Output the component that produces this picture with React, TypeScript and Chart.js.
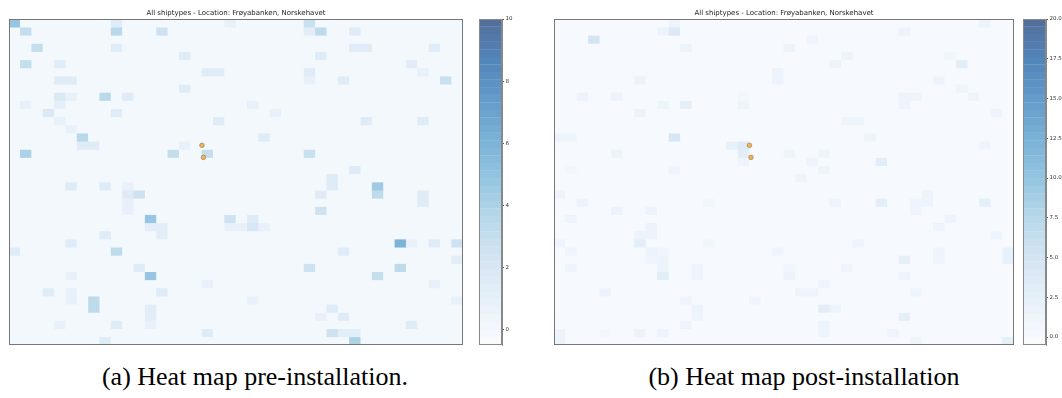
import React, { useEffect, useRef } from 'react';
import { Chart, registerables } from 'chart.js';

Chart.register(...registerables);

const GRID_SIZE = 40;
const TITLE = 'All shiptypes - Location: Frøyabanken, Norskehavet';
const CAPTION_PRE = '(a) Heat map pre-installation.';
const CAPTION_POST = '(b) Heat map post-installation';

// [column, row, value]  (row 0 = top)
const preCells: [number, number, number][] = [
  [0, 0, 4.8], [9, 0, 1.5], [19, 0, 0.8], [26, 0, 2.8],
  [1, 1, 3], [9, 1, 3.5], [13, 1, 2.5], [26, 1, 1.3], [27, 1, 3.3], [30, 1, 1.5],
  [2, 3, 3], [9, 3, 1.5], [30, 3, 1.5], [31, 3, 1.5], [37, 3, 1.5],
  [15, 4, 1.5], [27, 4, 1.5],
  [1, 5, 3], [4, 5, 1.5], [35, 5, 1.3],
  [17, 6, 1.5], [18, 6, 1.5], [26, 6, 1.5], [36, 6, 0.8],
  [4, 7, 1.5], [5, 7, 1.5], [26, 7, 0.8], [29, 7, 1.5], [38, 7, 2.8],
  [15, 8, 1.5],
  [4, 9, 1.8], [5, 9, 0.8], [8, 9, 3.5], [10, 9, 1.5],
  [1, 10, 0.8], [4, 10, 1], [21, 10, 0.8],
  [3, 11, 1.8], [9, 11, 1.5], [23, 11, 0.8],
  [4, 12, 0.8], [18, 12, 1.5], [31, 12, 1.5], [36, 12, 1.5],
  [5, 13, 0.8],
  [6, 14, 3.5], [22, 14, 1.5],
  [6, 15, 1.5], [7, 15, 1.5], [15, 15, 0.8],
  [1, 16, 4], [14, 16, 3], [17, 16, 3], [26, 16, 2.8],
  [30, 18, 1.5],
  [28, 19, 1.5],
  [5, 20, 1.5], [8, 20, 1.5], [10, 20, 0.8], [28, 20, 1.5], [32, 20, 4.5],
  [10, 21, 1.5], [11, 21, 2.5], [27, 21, 1.5], [32, 21, 3.3], [36, 21, 1.5],
  [10, 22, 0.8], [36, 22, 1.5],
  [10, 23, 0.8], [27, 23, 2.5],
  [12, 24, 4.8], [19, 24, 2.5], [21, 24, 1.5],
  [12, 25, 1.3], [13, 25, 1.3], [19, 25, 0.8], [20, 25, 0.8], [21, 25, 2], [22, 25, 0.8],
  [8, 26, 1.5], [13, 26, 1.3],
  [5, 27, 1.5], [34, 27, 6], [35, 27, 0.8], [37, 27, 1.5], [39, 27, 2.5],
  [0, 28, 1.5], [9, 28, 3.3], [29, 28, 1.5],
  [39, 29, 1.3],
  [11, 30, 1.5], [26, 30, 2.5], [34, 30, 3.3],
  [5, 31, 0.8], [12, 31, 4.8], [32, 31, 3],
  [17, 32, 0.8], [37, 32, 0.8],
  [3, 33, 1.5], [5, 33, 0.8], [13, 33, 1.5],
  [5, 34, 0.8], [7, 34, 3.3], [21, 34, 0.8], [39, 34, 0.8],
  [7, 35, 3.3], [12, 35, 1.3], [28, 35, 1.5],
  [12, 36, 1.3], [27, 36, 0.8], [29, 36, 1.5],
  [4, 37, 0.8], [9, 37, 1.5], [12, 37, 0.8], [35, 37, 1.5],
  [17, 38, 1.5], [28, 38, 2.5], [29, 38, 1.3], [30, 38, 1.3],
  [8, 39, 1.5], [30, 39, 4],
];

const postCells: [number, number, number][] = [
  [10, 0, 1.3], [37, 0, 1.3],
  [9, 1, 1.5], [10, 1, 3.8], [30, 1, 1.5],
  [3, 2, 5], [22, 2, 1.3],
  [11, 3, 1.5], [20, 3, 1.5],
  [25, 4, 1.3], [34, 4, 1],
  [24, 5, 1.5], [35, 5, 3],
  [19, 6, 1.5],
  [7, 7, 1.5], [19, 7, 1.5], [33, 7, 1.5],
  [35, 8, 1.3],
  [2, 9, 1.5], [5, 9, 1.5], [16, 9, 0.8], [30, 9, 1.3], [31, 9, 1.3], [36, 9, 1.3],
  [9, 10, 1.3], [11, 10, 2.5], [16, 10, 1.3], [30, 10, 1.3],
  [7, 11, 1.5], [38, 11, 1.3],
  [25, 12, 1.3], [26, 12, 1.3],
  [0, 14, 1.3], [1, 14, 1.3], [10, 14, 4.5], [27, 14, 1.3],
  [15, 15, 2], [16, 15, 3.5], [37, 15, 1.3],
  [5, 16, 1.5], [16, 16, 3], [20, 16, 1.3], [23, 16, 1.3],
  [16, 17, 1.3], [22, 17, 1.3], [28, 17, 3],
  [1, 18, 0.7], [10, 18, 1.3], [23, 18, 1.3],
  [21, 19, 1.3],
  [0, 21, 1.3], [32, 21, 1.3],
  [2, 22, 1.5], [13, 22, 1], [24, 22, 1.3], [28, 22, 2.8], [31, 22, 1.3], [32, 22, 1.3], [37, 22, 2.5],
  [5, 23, 1.5], [8, 23, 1.5], [31, 23, 1.3],
  [1, 24, 1.3], [34, 24, 1.3],
  [8, 25, 1.5], [33, 25, 1.3],
  [7, 26, 1.5], [8, 26, 1.5], [38, 26, 1.3],
  [0, 27, 1.3], [7, 27, 2.8], [13, 27, 1], [26, 27, 1.3],
  [1, 28, 1.3], [8, 28, 1.5], [9, 28, 1], [19, 28, 1.3], [33, 28, 1.3], [39, 28, 2],
  [8, 29, 1.3], [9, 29, 1.5], [30, 29, 2.5], [33, 29, 1.3], [39, 29, 2],
  [1, 30, 1.3], [9, 30, 1.5], [12, 30, 1.3], [20, 30, 1], [25, 30, 1.3],
  [9, 31, 3], [12, 31, 1.3], [20, 31, 1.5], [30, 31, 1.3],
  [23, 32, 1.3],
  [4, 33, 1.5], [21, 33, 1.3], [22, 33, 1.3], [31, 33, 1.3],
  [11, 34, 1.3], [17, 34, 1.3],
  [12, 35, 1.5], [23, 35, 3], [24, 35, 1.3],
  [12, 36, 1.3], [30, 36, 2.5],
  [11, 37, 1.3], [23, 37, 1.3],
  [0, 38, 1.5], [4, 38, 0.6], [7, 38, 1.5], [9, 38, 1.3], [23, 38, 1.3], [29, 38, 1.3],
  [0, 39, 1.5], [31, 39, 1.3], [39, 39, 2.5],
];

// installation markers, in grid units
const markerX = [17.0, 17.13];
const markerY = [15.5, 16.98];

const preRange = [-0.5, 10];
const postRange = [-0.5, 20];
const preTicks = [0, 2, 4, 6, 8, 10];
const preTickLabels = ['0', '2', '4', '6', '8', '10'];
const postTicks = [0, 2.5, 5, 7.5, 10, 12.5, 15, 17.5, 20];
const postTickLabels = ['0.0', '2.5', '5.0', '7.5', '10.0', '12.5', '15.0', '17.5', '20.0'];

const BLUES = [
  [247, 251, 255], [222, 235, 247], [198, 219, 239], [158, 202, 225], [107, 174, 214],
  [66, 146, 198], [33, 113, 181], [8, 81, 156], [8, 48, 107],
];

function cmap(v: number, range: number[]) {
  let t = (v - range[0]) / (range[1] - range[0]);
  t = Math.max(0, Math.min(1, t));
  const p = t * 8;
  const i = Math.min(7, Math.floor(p));
  const f = p - i;
  const a = BLUES[i], b = BLUES[i + 1];
  const rgb = [0, 1, 2].map((k) => a[k] + (b[k] - a[k]) * f);
  const out = rgb.map((c) => Math.round(0.7 * c + 0.3 * 255));
  return `rgb(${out[0]},${out[1]},${out[2]})`;
}

const framePlugin = (color: string) => ({
  id: 'frame',
  afterDraw(chart: any) {
    const { ctx, chartArea } = chart;
    ctx.save();
    ctx.strokeStyle = color;
    ctx.lineWidth = 1;
    ctx.strokeRect(chartArea.left + 0.5, chartArea.top + 0.5, chartArea.width - 1, chartArea.height - 1);
    ctx.restore();
  },
});

const bgPlugin = (color: string) => ({
  id: 'bgfill',
  beforeDatasetsDraw(chart: any) {
    const { ctx, chartArea } = chart;
    ctx.save();
    ctx.fillStyle = color;
    ctx.fillRect(chartArea.left, chartArea.top, chartArea.width, chartArea.height);
    ctx.restore();
  },
});

function makeHeatmap(canvas: HTMLCanvasElement, cells: [number, number, number][], range: number[]) {
  const grid: number[][] = Array.from({ length: GRID_SIZE }, () => new Array(GRID_SIZE).fill(0));
  cells.forEach(([c, r, v]) => {
    grid[r][c] = v;
  });
  const datasets: any[] = [
    {
      type: 'scatter',
      order: -1,
      data: markerX.map((x, i) => ({ x, y: markerY[i] })),
      pointRadius: 2.3,
      backgroundColor: '#f4b24f',
      borderColor: '#8c7b5a',
      borderWidth: 0.6,
      clip: false,
    },
  ];
  for (let r = 0; r < GRID_SIZE; r++) {
    datasets.push({
      type: 'bar',
      data: grid[r].map((v, c) => ({ x: c + 0.5, y: [r, r + 1] })),
      backgroundColor: grid[r].map((v) => cmap(v, range)),
      borderWidth: 0,
      grouped: false,
      barPercentage: 1,
      categoryPercentage: 1,
    });
  }
  return new Chart(canvas, {
    type: 'bar',
    data: { datasets },
    options: {
      animation: false,
      responsive: false,
      devicePixelRatio: 1,
      events: [],
      layout: { autoPadding: false, padding: { top: 0, bottom: 1, left: 0, right: 0 } },
      plugins: {
        legend: { display: false },
        tooltip: { enabled: false },
        title: {
          display: true,
          text: TITLE,
          color: '#222',
          font: { family: 'DejaVu Sans', size: 7, lineHeight: 1.2, weight: 'normal' },
          padding: { top: 9, bottom: 1.6 },
        },
      },
      scales: {
        x: { type: 'linear', min: 0, max: GRID_SIZE, offset: false, display: false },
        y: { type: 'linear', min: 0, max: GRID_SIZE, reverse: true, display: false },
      },
    } as any,
    plugins: [bgPlugin(cmap(0, range)), framePlugin('#777')],
  });
}

function makeColorbar(canvas: HTMLCanvasElement, range: number[], ticks: number[], labels: string[]) {
  const N = 43;
  const step = (range[1] - range[0]) / N;
  const datasets: any[] = [];
  for (let i = 0; i < N; i++) {
    const lo = range[0] + i * step;
    const hi = lo + step;
    datasets.push({
      data: [[lo, hi]],
      backgroundColor: cmap((lo + hi) / 2, range),
      borderWidth: 0,
      grouped: false,
      barPercentage: 1,
      categoryPercentage: 1,
      inflateAmount: 0.15,
    });
  }
  return new Chart(canvas, {
    type: 'bar',
    data: { labels: [''], datasets },
    options: {
      animation: false,
      responsive: false,
      devicePixelRatio: 1,
      events: [],
      layout: { autoPadding: false, padding: { top: 19, bottom: 1, left: 0, right: 0 } },
      plugins: { legend: { display: false }, tooltip: { enabled: false }, title: { display: false } },
      scales: {
        x: { display: false },
        y: {
          position: 'right',
          min: range[0],
          max: range[1],
          afterBuildTicks: (axis: any) => {
            axis.ticks = ticks.map((v) => ({ value: v }));
          },
          afterFit: (axis: any) => {
            axis.width = 20;
            axis.paddingTop = 0;
            axis.paddingBottom = 0;
          },
          ticks: {
            font: { family: 'DejaVu Sans', size: 5.5 },
            color: '#333',
            padding: 1.5,
            callback: (_v: any, i: number) => labels[i],
          },
          grid: { drawOnChartArea: false, drawTicks: true, tickLength: 2, color: '#555' },
          border: { display: true, color: '#888' },
        },
      },
    } as any,
    plugins: [framePlugin('#888')],
  });
}

export default function App() {
  const preRef = useRef<HTMLCanvasElement>(null);
  const postRef = useRef<HTMLCanvasElement>(null);
  const preBarRef = useRef<HTMLCanvasElement>(null);
  const postBarRef = useRef<HTMLCanvasElement>(null);

  useEffect(() => {
    const charts = [
      makeHeatmap(preRef.current!, preCells, preRange),
      makeHeatmap(postRef.current!, postCells, postRange),
      makeColorbar(preBarRef.current!, preRange, preTicks, preTickLabels),
      makeColorbar(postBarRef.current!, postRange, postTicks, postTickLabels),
    ];
    return () => charts.forEach((c) => c.destroy());
  }, []);

  const abs = (left: number, top: number): React.CSSProperties => ({ position: 'absolute', left, top, display: 'block' });
  const caption: React.CSSProperties = {
    position: 'absolute',
    top: 364,
    textAlign: 'center',
    fontFamily: '"Liberation Serif", "Times New Roman", serif',
    fontSize: 26,
    lineHeight: 1,
    color: '#000',
    whiteSpace: 'nowrap',
  };

  return (
    <div style={{ position: 'fixed', left: 0, top: 0, width: 1062, height: 398, background: '#fff', overflow: 'hidden' }}>
      <canvas ref={preRef} width={454} height={346} style={abs(9, 0)} />
      <canvas ref={preBarRef} width={43} height={346} style={abs(479, 0)} />
      <canvas ref={postRef} width={460} height={346} style={abs(554, 0)} />
      <canvas ref={postBarRef} width={43} height={346} style={abs(1023, 0)} />
      <div style={{ ...caption, left: 0, width: 510 }}>{CAPTION_PRE}</div>
      <div style={{ ...caption, left: 548, width: 512 }}>{CAPTION_POST}</div>
    </div>
  );
}
